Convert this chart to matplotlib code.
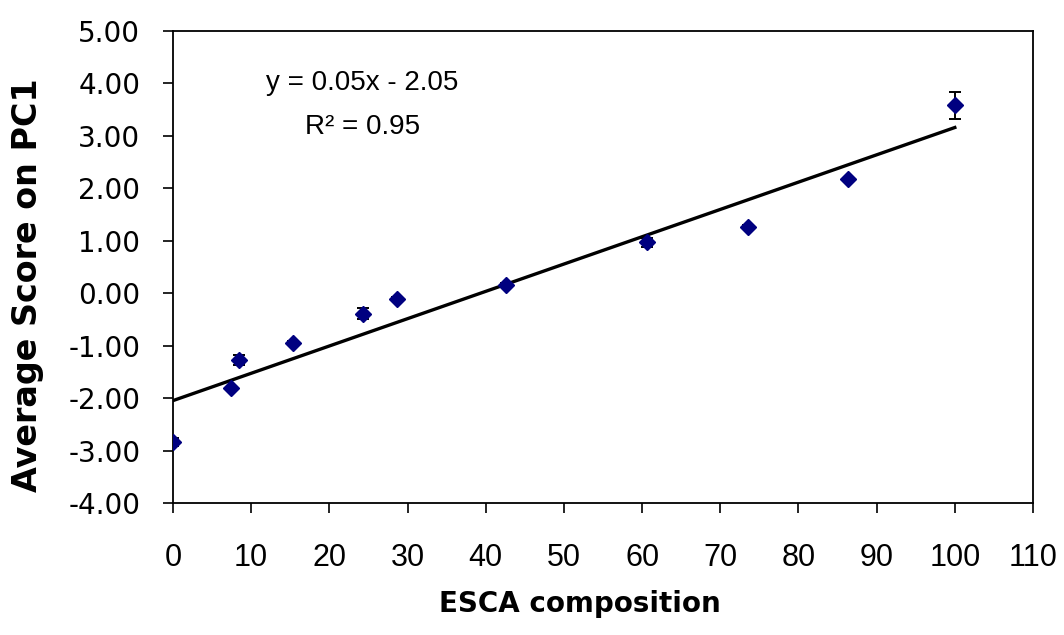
import matplotlib
matplotlib.use("Agg")
import matplotlib.pyplot as plt
import numpy as np

plt.rcParams['axes.unicode_minus'] = False

# ESCA composition vs. mean PC1 score
esca = [0, 7.4, 8.5, 15.4, 24.3, 28.7, 42.6, 60.6, 73.5, 86.3, 100]
pc1 = [-2.84, -1.81, -1.27, -0.95, -0.39, -0.11, 0.15, 0.97, 1.27, 2.17, 3.58]
err = [0.07, 0.02, 0.10, 0.03, 0.10, 0.04, 0.04, 0.08, 0.03, 0.03, 0.25]

yticks = [-4, -3, -2, -1, 0, 1, 2, 3, 4, 5]
xticks = [0, 10, 20, 30, 40, 50, 60, 70, 80, 90, 100, 110]

# linear trendline
slope, icept = np.polyfit(esca, pc1, 1)
pred = slope * np.array(esca) + icept
r2 = 1 - np.sum((np.array(pc1) - pred) ** 2) / np.sum((np.array(pc1) - np.mean(pc1)) ** 2)

fig = plt.figure(figsize=(10.64, 6.35), dpi=100)
ax = fig.add_axes([173/1064, 1 - 503/635, (1033-173)/1064, (503-31)/635])

xl = np.array([0, 100])
ax.plot(xl, slope * xl + icept, color='black', lw=2.4, zorder=2)
ax.errorbar(esca, pc1, yerr=err, fmt='D', color='#000080', ms=8, mec='#000080',
            ecolor='black', elinewidth=1.4, capsize=4.5, capthick=1.4, zorder=3)

ax.set_xlim(0, 110)
ax.set_ylim(-4, 5)
ax.set_xticks(xticks)
ax.set_yticks(yticks)
ax.set_yticklabels(['%.2f' % v for v in yticks], family='DejaVu Sans', fontsize=20)
ax.set_xticklabels([str(v) for v in xticks], family='Liberation Sans', fontsize=22)
ax.tick_params(axis='y', direction='out', length=7.5, width=1.2, pad=16)
ax.tick_params(axis='x', direction='out', length=7.5, width=1.2, pad=21)
for s in ax.spines.values():
    s.set_linewidth(1.3)

ax.text(24.2, 4.01, 'y = %.2fx - %.2f' % (slope, abs(icept)), ha='center', va='center',
        family='Liberation Sans', fontsize=20)
ax.text(24.2, 3.17, 'R² = %.2f' % r2, ha='center', va='center',
        family='Liberation Sans', fontsize=20)

fig.text(580/1064, 1 - 604/635, 'ESCA composition', ha='center', va='center',
         family='DejaVu Sans', fontweight='bold', fontsize=20)
fig.text(28/1064, 1 - 285/635, 'Average Score on PC1', ha='center', va='center',
         rotation=90, family='DejaVu Sans', fontweight='bold', fontsize=24)

fig.savefig('out.png', dpi=100)
